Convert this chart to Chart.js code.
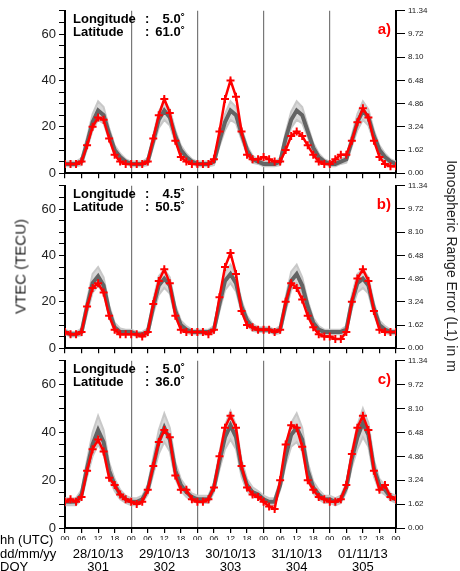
<!DOCTYPE html>
<html>
<head>
<meta charset="utf-8">
<script src="https://cdn.jsdelivr.net/npm/chart.js@4"></script>
<style>
  body { margin: 0; background: #fff; width: 460px; height: 571px; overflow: hidden; position: relative; font-family: "Liberation Sans", Arial, sans-serif; }
  canvas { position: absolute; left: 0; }
  .t { position: absolute; font-size: 13px; color: #000; white-space: nowrap; font-weight: normal; }
  .c { transform: translateX(-50%); }
</style>
</head>
<body>
<canvas id="pa" style="top:0px"></canvas>
<canvas id="pb" style="top:175px"></canvas>
<canvas id="pc" style="top:350px"></canvas>
<div class="t" style="left:-50px;top:258px;transform:rotate(-90deg);font-size:15px;width:140px;text-align:center;color:#222">VTEC (TECU)</div>
<div class="t" style="left:332px;top:258px;transform:rotate(90deg);font-size:14px;width:240px;text-align:center;color:#222">Ionospheric Range Error (L1) in m</div>
<div class="t" style="left:0;top:532px">hh (UTC)</div>
<div class="t" style="left:0;top:546px">dd/mm/yy</div>
<div class="t" style="left:0;top:559px">DOY</div>
<div id="days"></div>
<script>
// hours sampled every 2 h over 5 days (0..120)
const dates = ['28/10/13', '29/10/13', '30/10/13', '31/10/13', '01/11/13'];
const doy = ['301', '302', '303', '304', '305'];
const rightTicks = [0.00, 1.62, 3.24, 4.86, 6.48, 8.10, 9.72, 11.34];

// panel a) lon 5.0 lat 61.0
const redA = [4,4,4,5,12,20,24,23,15,8,5,4, 4,4,4,5,15,25,32,26,14,7,5,4, 4,4,4,6,18,32,40,33,18,8,6,6,
              7,6,5,5,10,16,18,16,12,8,5,4, 4,6,8,8,14,22,28,24,14,7,4,3, 3];
const meanA = [4,4,4,5,13,22,27,25,17,10,7,5, 4,4,4,5,14,23,27,24,16,10,7,5, 4,4,4,5,14,22,27,25,17,10,6,5,
               4,4,4,5,15,23,27,25,18,11,7,5, 4,4,5,6,14,22,27,24,16,10,7,5, 4];
const stdA = [1,1,1,1.5,2.5,3.5,4,3.5,2.5,2,1.5,1, 1,1,1,1.5,2.5,3.5,4,3.5,2.5,2,1.5,1, 1,1,1,1.5,2.5,3.5,4,3.5,2.5,2,1.5,1,
              1,1,1,1.5,2.5,3.5,4,3.5,2.5,2,1.5,1, 1,1,1,1.5,2.5,3.5,4,3.5,2.5,2,1.5,1, 1];
// panel b) lon 4.5 lat 50.5
const redB = [7,6,6,7,18,26,28,24,14,8,6,6, 6,6,5,7,19,29,34,28,14,8,7,7, 7,7,6,8,22,35,41,32,16,10,9,8,
              8,8,7,8,20,28,26,21,14,9,6,5, 5,4,4,7,20,30,34,29,16,8,7,7, 7];
const meanB = [7,6,6,7,18,28,31,27,16,9,7,7, 7,6,6,7,18,27,30,27,16,10,8,7, 7,7,7,8,19,29,32,28,18,12,9,8,
               8,8,7,8,19,29,32,27,18,11,8,7, 7,7,7,8,20,28,30,27,17,10,8,7, 7];
const stdB = [1,1,1,1.5,3,4,4,3.5,2.5,2,1.5,1, 1,1,1,1.5,3,4,4,3.5,2.5,2,1.5,1, 1,1,1,1.5,3,4,4,3.5,2.5,2,1.5,1,
              1,1,1,1.5,3,4,4,3.5,2.5,2,1.5,1, 1,1,1,1.5,3,4,4,3.5,2.5,2,1.5,1, 1];
// panel c) lon 5.0 lat 36.0
const redC = [11,12,11,13,24,33,37,32,21,18,14,12, 11,10,11,16,26,36,41,38,22,16,16,12, 11,11,12,17,30,42,47,42,26,17,14,13,
              11,9,8,20,35,43,42,34,20,16,13,12, 11,11,12,18,31,42,47,41,24,16,18,13, 12];
const meanC = [11,11,11,14,25,35,41,36,24,18,14,12, 11,11,12,16,26,36,42,37,24,18,15,13, 12,12,12,17,28,38,43,38,25,18,15,14,
               12,11,11,18,30,39,42,37,24,17,14,12, 12,11,12,17,29,38,44,39,25,18,16,13, 12];
const stdC = [1.5,1.5,1.5,2,3.5,5,6,5,3.5,2.5,2,1.5, 1.5,1.5,1.5,2,3.5,5,6,5,3.5,2.5,2,1.5, 1.5,1.5,1.5,2,3.5,5,6,5,3.5,2.5,2,1.5,
              1.5,1.5,1.5,2,3.5,5,6,5,3.5,2.5,2,1.5, 1.5,1.5,1.5,2,3.5,5,6,5,3.5,2.5,2,1.5, 1.5];

const pts = arr => arr.map((v, i) => ({x: i * 2, y: v}));
const band = (m, s, sign) => m.map((v, i) => ({x: i * 2, y: v + sign * s[i]}));

// text labels inside each panel
const labelPlugin = {
  id: 'labels',
  afterDraw(chart, args, opts) {
    const c = chart.ctx, a = chart.chartArea;
    c.save();
    c.fillStyle = '#000';
    c.font = 'bold 13px "Liberation Sans", Arial';
    c.textBaseline = 'top';
    c.fillText('Longitude', a.left + 8, a.top + 2);
    c.fillText('Latitude', a.left + 8, a.top + 15);
    c.fillText(':', a.left + 80, a.top + 2);
    c.fillText(':', a.left + 80, a.top + 15);
    c.textAlign = 'right';
    c.fillText(opts.lon + '\u02da', a.left + 120, a.top + 2);
    c.fillText(opts.lat + '\u02da', a.left + 120, a.top + 15);
    c.fillStyle = 'red';
    c.font = 'bold 15px "Liberation Sans", Arial';
    c.fillText(opts.tag, a.right - 5, a.top + 12);
    c.restore();
  }
};

function makePanel(id, height, bottomH, red, mean, std, lon, lat, tag, showX) {
  const cv = document.getElementById(id);
  cv.width = 460; cv.height = height;
  cv.style.width = '460px'; cv.style.height = height + 'px';
  new Chart(cv, {
    type: 'line',
    data: {
      datasets: [
        {data: band(mean, std, 1), order: 3, borderColor: 'rgba(195,195,195,0.9)', borderWidth: 2, pointRadius: 0, fill: false},
        {data: band(mean, std, -1), order: 2, borderColor: 'rgba(195,195,195,0.9)', borderWidth: 2, pointRadius: 0,
         fill: '-1', backgroundColor: 'rgba(200,200,200,0.7)'},
        {data: pts(mean), order: 1, borderColor: 'rgb(100,100,100)', borderWidth: 4, pointRadius: 0, fill: false},
        {data: pts(red), order: 0, borderColor: 'rgb(255,0,0)', borderWidth: 2.5, pointStyle: 'cross', pointRadius: 4,
         pointBorderColor: 'rgb(255,0,0)', pointBorderWidth: 2, fill: false}
      ]
    },
    options: {
      responsive: false, animation: false,
      layout: {padding: {top: 9, left: 0, right: 0, bottom: 0}},
      plugins: {legend: {display: false}, tooltip: {enabled: false}, labels: {lon, lat, tag}},
      scales: {
        x: {
          type: 'linear', min: 0, max: 120,
          afterFit: s => { s.height = bottomH; },
          ticks: {stepSize: 6, display: showX, padding: 1, color: '#000', font: {size: 8},
                  callback: v => String(v % 24 === 0 ? 0 : v % 24).padStart(2, '0')},
          grid: {color: c => (c.tick && c.tick.value % 24 === 0) ? 'rgb(120,120,120)' : 'rgba(0,0,0,0)',
                 tickColor: '#000', tickLength: 5, lineWidth: 1.2},
          border: {color: '#000', width: 2}
        },
        y: {
          min: 0, max: 70,
          afterFit: s => { s.width = 65; },
          ticks: {stepSize: 5, color: '#222', font: {size: 13}, autoSkip: false,
                  callback: v => v % 20 === 0 ? v : ''},
          grid: {drawOnChartArea: false, tickColor: '#000', tickLength: 6},
          border: {color: '#000', width: 2}
        },
        y2: {
          position: 'right', min: 0, max: 11.34,
          afterFit: s => { s.width = 64; },
          afterBuildTicks: s => { s.ticks = rightTicks.map(v => ({value: v})); },
          ticks: {color: '#222', font: {size: 8}, callback: v => v.toFixed(2)},
          grid: {drawOnChartArea: false, tickColor: '#000', tickLength: 9},
          border: {color: '#000', width: 2}
        }
      }
    },
    plugins: [labelPlugin]
  });
}

makePanel('pa', 184, 3, redA, meanA, stdA, '5.0', '61.0', 'a)', false);
makePanel('pb', 184, 3, redB, meanB, stdB, '4.5', '50.5', 'b)', false);
makePanel('pc', 190, 12, redC, meanC, stdC, '5.0', '36.0', 'c)', true);

// day labels under the bottom axis
const box = document.getElementById('days');
dates.forEach((d, i) => {
  const x = 65 + (12 + 24 * i) * 331 / 120;
  box.insertAdjacentHTML('beforeend',
    `<div class="t c" style="left:${x}px;top:546px">${d}</div><div class="t c" style="left:${x}px;top:559px">${doy[i]}</div>`);
});
</script>
</body>
</html>
